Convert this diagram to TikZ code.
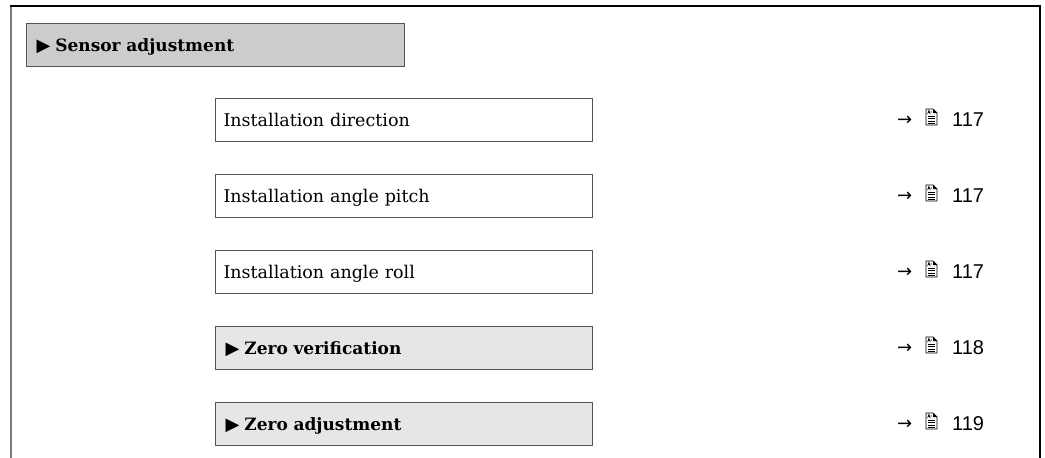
\documentclass[tikz,border=0pt]{standalone}
\usepackage{fontspec}
\setmainfont{DejaVu Serif}
\newfontfamily\numfont{Liberation Sans}
\newfontfamily\symfont{DejaVu Sans}
\usetikzlibrary{calc}
\definecolor{hdrgray}{HTML}{CCCCCC}
\definecolor{subgray}{HTML}{E6E6E6}
\definecolor{edgegray}{HTML}{555555}
\definecolor{framegray}{HTML}{7A7A7A}
\newcommand{\tri}{{\symfont\fontsize{18}{18}\selectfont\raisebox{0pt}{▶}}\hspace{5pt}}
\tikzset{
  menubox/.style={draw=edgegray, line width=1.1pt, rectangle, anchor=north west,
    minimum height=43pt, inner xsep=8pt, inner ysep=0pt, text width=361pt,
    align=left, text height=12pt, text depth=0pt,
    font=\fontsize{17.5}{20}\selectfont},
  subbox/.style={menubox, fill=subgray, inner xsep=10pt, text width=357pt,
    font=\fontsize{17}{20}\selectfont\bfseries},
  hdrbox/.style={menubox, fill=hdrgray, inner xsep=10pt, text width=358pt,
    font=\fontsize{17}{20}\selectfont\bfseries},
  refarrow/.style={anchor=base west, inner sep=0pt, font=\symfont\fontsize{18}{18}\selectfont},
  refnum/.style={anchor=base west, inner sep=0pt, font=\numfont\fontsize{20}{20}\selectfont},
  docicon/.pic={
    \draw[line width=0.9pt, line join=round] (0,0) -- (7,0) -- (11,4) -- (11,16) -- (0,16) -- cycle;
    \fill (7,0) -- (11,4) -- (7,4) -- cycle;
    \draw[line width=0.6pt] (1.6,5) -- (2.9,1.2) -- (4.2,5) (2.2,3.6) -- (3.6,3.6) (4.6,3) -- (6.2,3);
    \foreach \yy in {7.2,9.6,12,14.2} \draw[line width=0.9pt] (2,\yy) -- (9,\yy);
  }
}
\begin{document}
\begin{tikzpicture}[x=1pt,y=-1pt]
\useasboundingbox (0,0) rectangle (1045,458);
% frame
\draw[framegray, line width=1.8pt] (11,458) -- (11,6);
\draw[black, line width=1.4pt] (10.1,6) -- (1040,6) -- (1040,458);
% header
\node[hdrbox] (hdr) at (26,23) {\tri Sensor adjustment};
% items
\node[menubox] (b1) at (215,98)  {Installation direction};
\node[menubox] (b2) at (215,174) {Installation angle pitch};
\node[menubox] (b3) at (215,250) {Installation angle roll};
\node[subbox]  (b4) at (215,326) {\tri Zero verification};
\node[subbox]  (b5) at (215,402) {\tri Zero adjustment};
% references
\node[refarrow] (a1) at (897,125) {→};
\node[refarrow] (a2) at (897,201) {→};
\node[refarrow] (a3) at (897,277) {→};
\node[refarrow] (a4) at (897,353) {→};
\node[refarrow] (a5) at (897,429) {→};
\pic at (926,109) {docicon};
\pic at (926,185) {docicon};
\pic at (926,261) {docicon};
\pic at (926,337) {docicon};
\pic at (926,413) {docicon};
\node[refnum] (n1) at (952,126) {117};
\node[refnum] (n2) at (952,202) {117};
\node[refnum] (n3) at (952,278) {117};
\node[refnum] (n4) at (952,354) {118};
\node[refnum] (n5) at (952,430) {119};
\end{tikzpicture}
\end{document}
